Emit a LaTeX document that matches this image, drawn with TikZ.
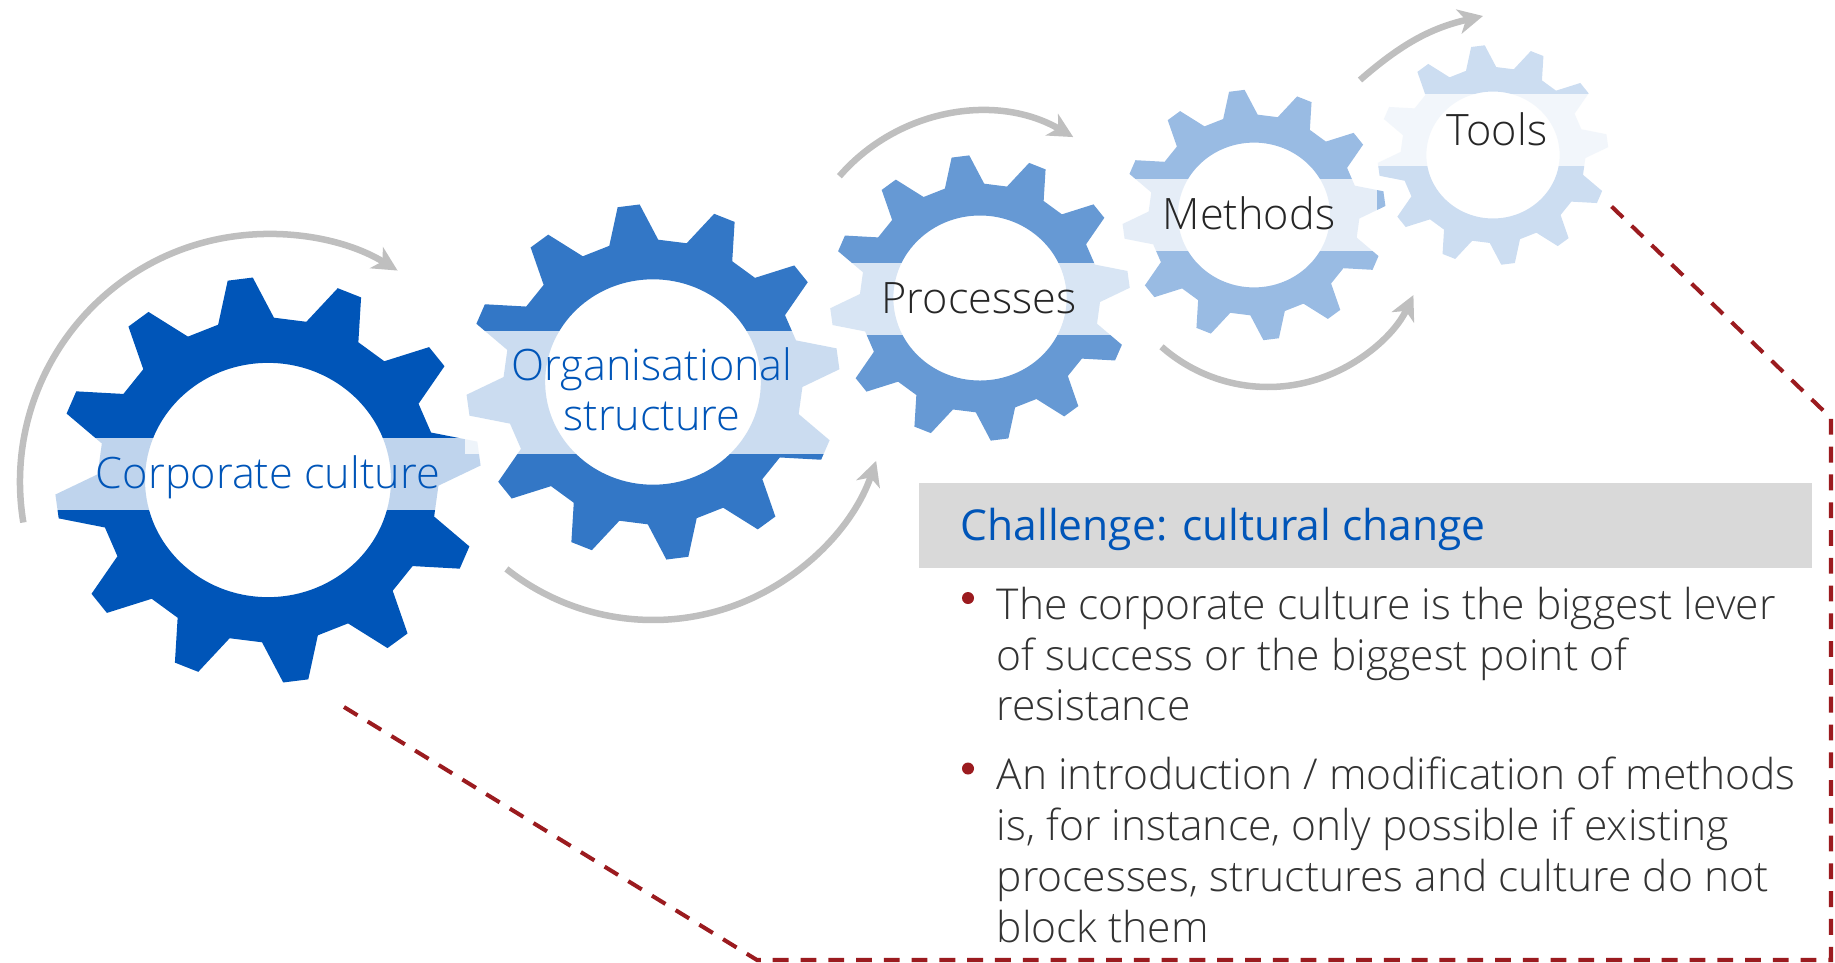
\documentclass[tikz,border=0pt]{standalone}
\usepackage{fontspec}
\setmainfont{Open Sans}[UprightFont=* Light]
\newfontfamily\osreg{Open Sans}
\usetikzlibrary{arrows.meta}
\definecolor{gblue}{HTML}{0055B8}
\definecolor{arrowgray}{HTML}{BFBFBF}
\definecolor{dashred}{HTML}{9B1B1F}
\definecolor{boxgray}{HTML}{D9D9D9}
\definecolor{txtgray}{HTML}{333333}
\definecolor{labgray}{HTML}{262626}
\newcommand{\drawgear}[4]{%
  \begin{scope}[shift={(#1,#2)}, xscale=1.05]
    \fill[#4, even odd rule] ({-2}:{0.8*#3})
      \foreach \a in {7.5,37.5,...,337.5} {
        -- ({\a-9.5}:{0.8*#3}) -- ({\a-3.4}:{#3}) -- ({\a+3.4}:{#3}) -- ({\a+9.5}:{0.8*#3})
      } -- cycle
      (0,0) circle[radius={0.577*#3}];
  \end{scope}}
\begin{document}
\begin{tikzpicture}[x=0.01cm,y=0.01cm,
  gtext/.style={inner sep=0pt, anchor=base, font=\fontsize{12.3}{14.4}\selectfont},
  gearband/.style={fill=white, fill opacity=0.75},
  cyclearrow/.style={draw=arrowgray, line width=1.85pt, -{Stealth[length=7pt,width=7pt,inset=2pt]}},
  btext/.style={inner sep=0pt, anchor=base west, text=txtgray, font=\fontsize{12.1}{14.5}\selectfont},
  bulletdot/.style={fill=dashred},
  dashframe/.style={draw=dashred, line width=1.15pt, dash pattern=on 4.5pt off 3.4pt}]
\useasboundingbox (0,0) rectangle (1835,-963);

% gears with their bands
\drawgear{268}{-480}{203}{gblue}
\fill[gearband] (55,-438) rectangle (482,-510);
\drawgear{653}{-382}{178}{gblue!80}
\fill[gearband] (465,-331) rectangle (842,-454);
\drawgear{980}{-298}{143}{gblue!60}
\fill[gearband] (828,-263) rectangle (1130,-335);
\drawgear{1254}{-215}{125.5}{gblue!40}
\fill[gearband] (1122,-179) rectangle (1377,-251);
\drawgear{1493}{-155}{110}{gblue!20}
\fill[gearband] (1377,-94) rectangle (1609,-166);

% gear labels
\node[gtext, text=gblue] (t1) at (268,-488) {Corporate culture};
\node[gtext, text=gblue] (t2) at (652,-380) {\parbox[t]{4cm}{\centering Organisational\\structure}};
\node[gtext, text=labgray] (t3) at (979,-313) {Processes};
\node[gtext, text=labgray] (t4) at (1249,-229) {Methods};
\node[gtext, text=labgray] (t5) at (1497,-145) {Tools};

% cycle arrows
\draw[cyclearrow] ([shift={(189.4:248)}]268,-482) arc[start angle=189.4, end angle=58.5, radius=248];
\draw[cyclearrow] ([shift={(-128.4:236)}]653,-384) arc[start angle=-128.4, end angle=-19, radius=236];
\draw[cyclearrow] ([shift={(139.1:186)}]980,-298) arc[start angle=139.1, end angle=59.9, radius=186];
\draw[cyclearrow] ([shift={(-131.4:161)}]1268,-226) arc[start angle=-131.4, end angle=-25.4, radius=161];
\coordinate (a5s) at (1360,-80);
\coordinate (a5e) at (1483,-16);
\draw[cyclearrow] (a5s) to[out=41, in=193] (a5e);

% challenge box
\fill[boxgray] (919,-483) rectangle (1812,-568);
\node[inner sep=0pt, anchor=base west, text=gblue, font=\osreg\fontsize{12.1}{15}\selectfont] (title) at (960,-540) {Challenge: cultural change};
\fill[bulletdot] (968,-598) circle[radius=6];
\node[btext] (b1) at (996,-619) {\parbox[t]{9cm}{\raggedright The corporate culture is the biggest lever\\of success or the biggest point of\\resistance}};
\fill[bulletdot] (968,-768.5) circle[radius=6];
\node[btext] (b2) at (996,-789.3) {\parbox[t]{9cm}{\raggedright An introduction / modification of methods\\is, for instance, only possible if existing\\processes, structures and culture do not\\block them}};

% dashed callout frame
\coordinate (d1) at (344,-707);
\coordinate (d2) at (757,-960);
\coordinate (d3) at (1831,-960);
\coordinate (d4) at (1831,-418);
\coordinate (d5) at (1609,-204);
\draw[dashframe] (d1) -- (d2) -- (d3) -- (d4) -- (d5);
\end{tikzpicture}
\end{document}
